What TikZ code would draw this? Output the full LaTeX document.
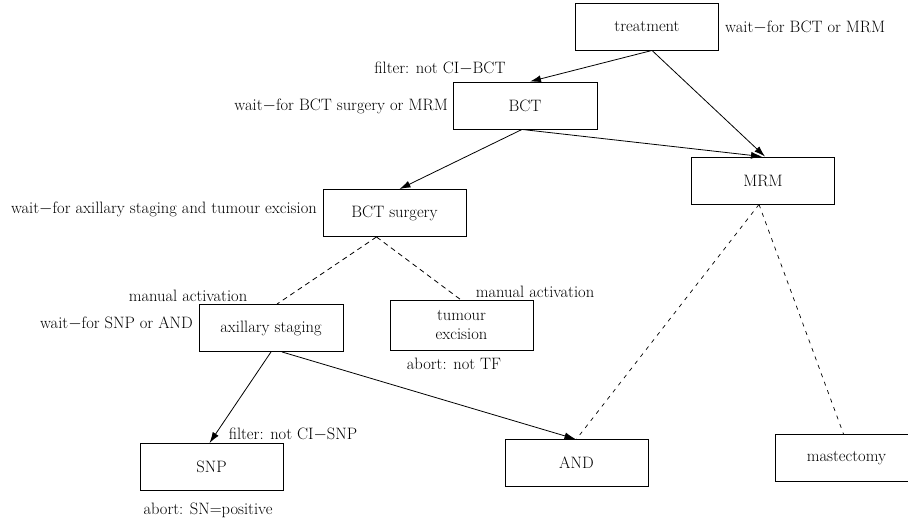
\documentclass[tikz,border=0pt]{standalone}
\usetikzlibrary{arrows.meta}
\begin{document}
\begin{tikzpicture}[x=1pt,y=-1pt,
  every node/.style={font=\fontsize{16.5}{19}\selectfont, inner sep=0pt},
  box/.style={draw, line width=0.9pt, minimum width=143pt, minimum height=47pt, align=center},
  lbl/.style={},
  arr/.style={line width=0.8pt, -{Latex[length=11pt,width=7pt]}},
  dsh/.style={line width=0.8pt, dash pattern=on 5pt off 4pt},
  dsh2/.style={line width=0.7pt, dash pattern=on 4pt off 5pt}]
\useasboundingbox (0,0) rectangle (908,522);
\clip (0,0) rectangle (908,522);
% boxes
\node[box] (treat) at (647,26.5) {treatment};
\node[box, minimum width=144pt] (bct) at (525,105.5) {BCT};
\node[box] (mrm) at (763,180.5) {MRM};
\node[box] (bcts) at (394.5,213) {BCT surgery};
\node[box, minimum width=144pt] (ax) at (271,328) {axillary staging};
\node[box, minimum height=50pt] (tum) at (461.5,325) {tumour\\excision};
\node[box] (snp) at (211.5,467) {SNP};
\node[box] (and) at (576.5,463) {AND};
\node[box] (mast) at (846.5,458) {mastectomy};
% labels
\node[lbl, anchor=west] (l1) at (725,27) {wait$-$for BCT or MRM};
\node[lbl] (l2) at (440,68) {filter: not CI$-$BCT};
\node[lbl, anchor=east] (l3) at (448,106) {wait$-$for BCT surgery or MRM};
\node[lbl, anchor=east] (l4) at (317,209) {wait$-$for axillary staging and tumour excision};
\node[lbl] (l5) at (188,296) {manual activation};
\node[lbl, anchor=east] (l6) at (193,323) {wait$-$for SNP or AND};
\node[lbl] (l7) at (535,292) {manual activation};
\node[lbl] (l8) at (454,364) {abort: not TF};
\node[lbl] (l9) at (293,434) {filter: not CI$-$SNP};
\node[lbl] (l10) at (208,510) {abort: SN=positive};
% connectors
\draw[arr] ([xshift=5pt]treat.south) -- ([xshift=5pt]bct.north);
\draw[arr] ([xshift=5pt]treat.south) -- ([xshift=2pt]mrm.north);
\draw[arr] ([xshift=-3pt]bct.south) -- ([xshift=-1pt]mrm.north);
\draw[arr] ([xshift=-3pt]bct.south) -- ([xshift=5pt]bcts.north);
\draw[dsh] ([xshift=-18pt]bcts.south) -- ([xshift=6pt]ax.north);
\draw[dsh] ([xshift=-18pt]bcts.south) -- ([xshift=-1pt]tum.north);
\draw[arr] (ax.south) -- ([xshift=-2pt]snp.north);
\draw[arr] ([xshift=11pt]ax.south) -- ([xshift=-1pt]and.north);
\draw[dsh2] ([xshift=-4pt]mrm.south) -- (and.north);
\draw[dsh2] ([xshift=-4pt]mrm.south) -- ([xshift=-3pt]mast.north);
\end{tikzpicture}
\end{document}
